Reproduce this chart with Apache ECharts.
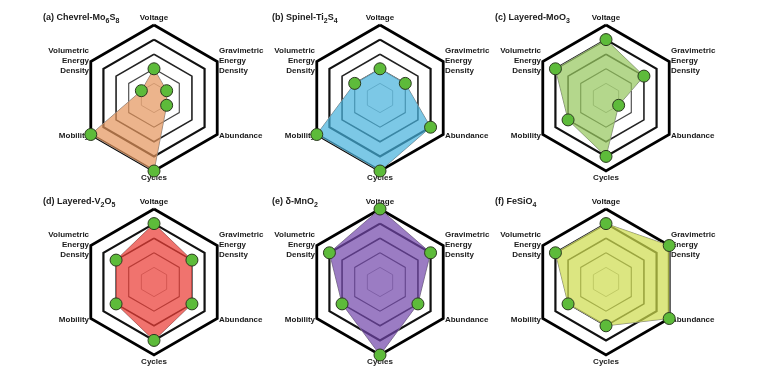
<!DOCTYPE html>
<html>
<head>
<meta charset="utf-8">
<script src="https://cdn.jsdelivr.net/npm/echarts@6/dist/echarts.min.js"></script>
<style>html,body{margin:0;padding:0;background:#fff}#c{width:763px;height:373px}</style>
</head>
<body>
<div id="c"></div>
<script>
// Axis names, listed clockwise from the top
const axisNames = ['Voltage', 'Gravimetric\nEnergy\nDensity', 'Abundance', 'Cycles', 'Mobility', 'Volumetric\nEnergy\nDensity'];
const axisMax = 5;
// Values per material, same clockwise order as axisNames
const chevrelMo6S8 = [2, 1, 1, 5, 5, 1];
const spinelTi2S4 = [2, 2, 4, 5, 5, 2];
const layeredMoO3 = [4, 3, 1, 4, 3, 4];
const layeredV2O5 = [4, 3, 3, 4, 3, 3];
const deltaMnO2 = [5, 4, 3, 5, 3, 4];
const feSiO4 = [4, 5, 5, 3, 3, 4];
const panelTitles = [
  '{t|(a) Chevrel-Mo}{s|6}{t|S}{s|8}',
  '{t|(b) Spinel-Ti}{s|2}{t|S}{s|4}',
  '{t|(c) Layered-MoO}{s|3}',
  '{t|(d) Layered-V}{s|2}{t|O}{s|5}',
  '{t|(e) δ-MnO}{s|2}',
  '{t|(f) FeSiO}{s|4}'
];
const panelValues = [chevrelMo6S8, spinelTi2S4, layeredMoO3, layeredV2O5, deltaMnO2, feSiO4];
const fillColors = ['#E4945B', '#45B0DB', '#94C65B', '#EA3730', '#7045A9', '#CDDB4C'];

// layout
const centers = [[154, 98], [380, 98], [606, 98], [154, 282], [380, 282], [606, 282]];
const titlePos = [[43, 10], [272, 10], [495, 10], [43, 194], [272, 194], [495, 194]];
const R = 73;
const ringStyles = [
  {w: 0.8, c: '#888'}, {w: 1.1, c: '#444'}, {w: 1.6, c: '#222'}, {w: 2.2, c: '#111'}, {w: 2.8, c: '#000'}
];
// ECharts places indicators counter-clockwise; reorder
const ccw = [0, 5, 4, 3, 2, 1];

const radars = [];
const series = [];
const titles = [];
centers.forEach((ctr, p) => {
  ringStyles.forEach((rs, k) => {
    radars.push({
      center: ctr, radius: R * (k + 1) / 5, shape: 'polygon', splitNumber: 1, startAngle: 90,
      indicator: ccw.map(i => ({name: '', max: 1, min: 0})),
      axisName: {show: false}, axisLine: {show: false}, axisTick: {show: false}, axisLabel: {show: false},
      splitArea: {show: false},
      splitLine: {show: true, lineStyle: {color: rs.c, width: rs.w}}
    });
  });
  const mainIdx = radars.length;
  radars.push({
    center: ctr, radius: R, shape: 'polygon', splitNumber: 5, startAngle: 90,
    indicator: ccw.map(i => ({name: axisNames[i], max: axisMax, min: 0})),
    nameGap: 2,
    axisName: {color: '#1a1a1a', fontSize: 8, fontWeight: 'bold', fontFamily: 'Liberation Sans, Arial, sans-serif', lineHeight: 10},
    axisLine: {show: false}, axisTick: {show: false}, axisLabel: {show: false},
    splitArea: {show: false}, splitLine: {show: false}
  });
  series.push({
    type: 'radar', radarIndex: mainIdx, z: 5,
    symbol: 'circle', symbolSize: 12,
    itemStyle: {color: '#5DBB3A', borderColor: '#2b3a1f', borderWidth: 1},
    lineStyle: {color: '#8a8a8a', width: 1},
    areaStyle: {color: fillColors[p], opacity: 0.7},
    data: [{value: ccw.map(i => panelValues[p][i])}]
  });
  titles.push({
    text: panelTitles[p], left: titlePos[p][0], top: titlePos[p][1], padding: 0,
    textStyle: {
      fontFamily: 'Liberation Sans, Arial, sans-serif', color: '#1a1a1a',
      rich: {
        t: {fontSize: 9, fontWeight: 'bold', lineHeight: 16, fontFamily: 'Liberation Sans, Arial, sans-serif', color: '#1a1a1a'},
        s: {fontSize: 7, fontWeight: 'bold', lineHeight: 10, padding: [6, 0, 0, 0], fontFamily: 'Liberation Sans, Arial, sans-serif', color: '#1a1a1a'}
      }
    }
  });
});

const chart = echarts.init(document.getElementById('c'), null, {renderer: 'canvas'});
chart.setOption({
  animation: false,
  backgroundColor: '#fff',
  title: titles,
  radar: radars,
  series: series
});
</script>
</body>
</html>
